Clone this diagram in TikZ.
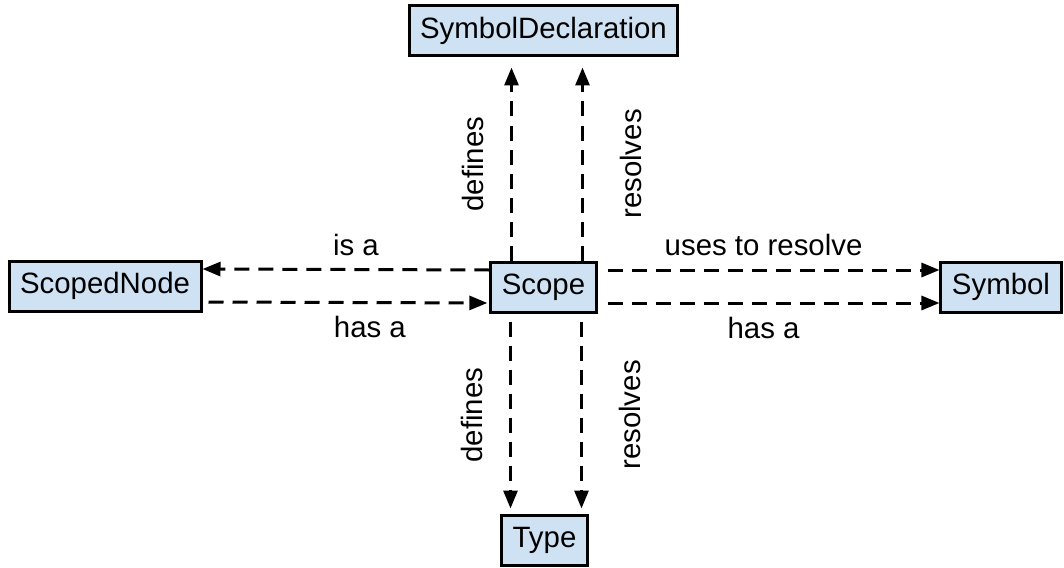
\documentclass[tikz,border=0pt]{standalone}
\usepackage{fontspec}
\setmainfont{Liberation Sans}
\usetikzlibrary{arrows.meta, positioning}

\definecolor{boxblue}{HTML}{CFE2F3}

\begin{document}
\begin{tikzpicture}[x=0.5pt, y=-0.5pt,
    box/.style={draw, line width=1.5pt, fill=boxblue, inner xsep=5.5pt,
        minimum height=25pt, font=\fontsize{14.7}{17}\selectfont},
    link/.style={dashed, dash pattern=on 7.5pt off 4.5pt, line width=1.5pt,
        -{Triangle[length=9pt, width=7pt]}},
    every node/.append style={font=\fontsize{14.7}{17}\selectfont}]
    \useasboundingbox (0,0) rectangle (1064,567);
    \node[box] (scope) at (543.5,287) {Scope};
    \node[box] (scopednode) at (105,286) {ScopedNode};
    \node[box] (symdecl) at (543.5,31) {SymbolDeclaration};
    \node[box] (symbol) at (1001,287) {Symbol};
    \node[box] (type) at (544.5,540) {Type};
	\path[link]
	([yshift=8.5pt]scope.west) edge node [above=3pt, xshift=5pt] {is a} ([yshift=8.5pt]scopednode.east)
	([yshift=-8pt, xshift=3pt]scopednode.east) edge node [below=3pt, xshift=11pt] {has a} ([yshift=-8pt, xshift=-1pt]scope.west)
	([yshift=8.5pt, xshift=5pt]scope.east) edge node [above=3pt, xshift=-5pt] {uses to resolve} ([yshift=8.5pt]symbol.west)
	([yshift=-8pt, xshift=5pt]scope.east) edge node [below=3pt, xshift=-5pt] {has a} ([yshift=-8pt]symbol.west)
	([xshift=-16pt]scope.north) edge node [xshift=-19.5pt, rotate=90] {defines} ([xshift=-16pt, yshift=-5pt]symdecl.south)
	([xshift=19.5pt]scope.north) edge node [xshift=24pt, rotate=90] {resolves} ([xshift=19.5pt, yshift=-5pt]symdecl.south)
	([xshift=-16.5pt, yshift=-4pt]scope.south) edge node [xshift=-19.5pt, rotate=90] {defines} ([xshift=-17pt, yshift=2.5pt]type.north)
	([xshift=19pt, yshift=-4pt]scope.south) edge node [xshift=24pt, rotate=90] {resolves} ([xshift=18.5pt, yshift=2.5pt]type.north);
\end{tikzpicture}
\end{document}
